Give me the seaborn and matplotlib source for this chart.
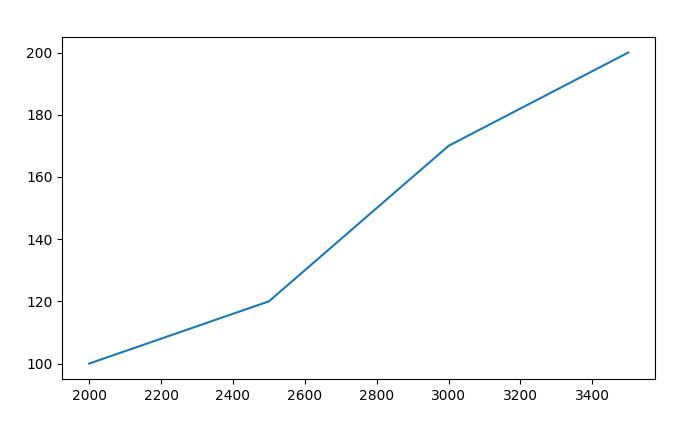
import matplotlib
matplotlib.use("Agg")
import matplotlib.pyplot as plt
import seaborn as sns

# breakpoints
x_values = [2000, 2500, 3000, 3500]
y_values = [100, 120, 170, 200]

fig, ax = plt.subplots(figsize=(7, 4.25), dpi=100)
plt.subplots_adjust(left=0.089, right=0.936, top=0.913, bottom=0.108)

sns.lineplot(x=x_values, y=y_values, ax=ax, color="#1f77b4", linewidth=1.5)

ax.set_xticks([2000, 2200, 2400, 2600, 2800, 3000, 3200, 3400])
ax.set_yticks([100, 120, 140, 160, 180, 200])

plt.savefig("out.png", dpi=100)
